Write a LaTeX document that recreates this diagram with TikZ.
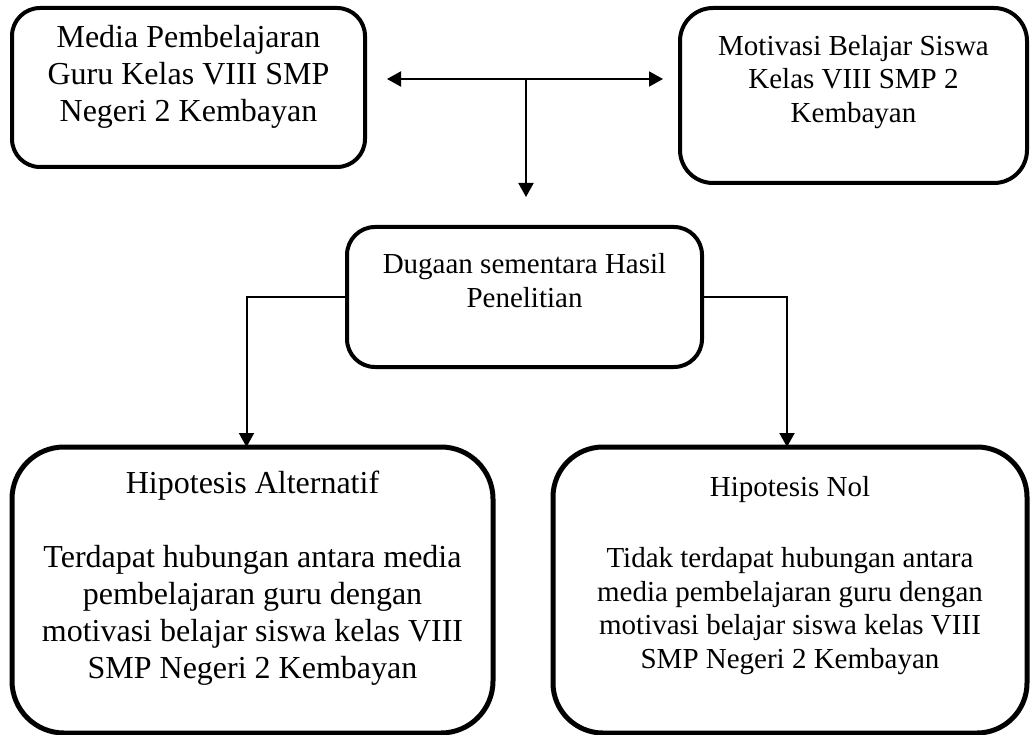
\documentclass[tikz,border=0pt]{standalone}
\usepackage{fontspec}
\setmainfont{Liberation Serif}
\usetikzlibrary{arrows.meta,positioning,calc}

\tikzset{
    box/.style={draw,line width=4pt,anchor=north west,inner sep=0pt,outer sep=0pt},
    txt/.style={align=center,anchor=north,inner sep=0pt},
    conn/.style={line width=2pt},
    >={Triangle[length=14pt,width=15pt]}
}

\begin{document}
\begin{tikzpicture}[x=1pt,y=-1pt]
    \useasboundingbox (0,0) rectangle (1030,735);

    % Top boxes
    \node[box,rounded corners=28pt,minimum width=353pt,minimum height=159pt] (media) at (12,8) {};
    \node[box,rounded corners=33pt,minimum width=347pt,minimum height=175pt] (motivasi) at (680,8) {};
    \node[txt,font=\fontsize{32}{37}\selectfont] (mediatxt) at ([yshift=-17pt]media.north) {Media Pembelajaran\\Guru Kelas VIII SMP\\Negeri 2 Kembayan};
    \node[txt,font=\fontsize{29}{33.5}\selectfont] (motivasitxt) at ([yshift=-27pt]motivasi.north) {Motivasi Belajar Siswa\\Kelas VIII SMP 2\\Kembayan};

    % Middle box
    \node[box,rounded corners=28pt,minimum width=355pt,minimum height=140pt] (dugaan) at (347,227) {};
    \node[txt,font=\fontsize{29}{34}\selectfont] (dugaantxt) at ([yshift=-26pt]dugaan.north) {Dugaan sementara Hasil\\Penelitian};

    % Bottom boxes
    \node[box,line width=5pt,rounded corners=52pt,minimum width=481pt,minimum height=286pt] (alt) at (12,447) {};
    \node[box,line width=5pt,rounded corners=50pt,minimum width=474pt,minimum height=286pt] (nol) at (553,447) {};
    \node[txt,font=\fontsize{32}{37}\selectfont] (alttxt) at ([yshift=-24pt]alt.north) {Hipotesis Alternatif\\[37pt]Terdapat hubungan antara media\\pembelajaran guru dengan\\motivasi belajar siswa kelas VIII\\SMP Negeri 2 Kembayan};
    \node[txt,font=\fontsize{29}{33.5}\selectfont] (noltxt) at ([yshift=-29pt]nol.north) {Hipotesis Nol\\[38pt]Tidak terdapat hubungan antara\\media pembelajaran guru dengan\\motivasi belajar siswa kelas VIII\\SMP Negeri 2 Kembayan};

    % Arrows
    \coordinate (lft) at (387,79);
    \coordinate (rgt) at (663,79);
    \coordinate (jn) at (526,79);
    \coordinate (dn) at (526,197);
    \draw[conn,<->] (lft) -- (rgt);
    \draw[conn,->] (jn) -- (dn);
    \draw[conn,->] (dugaan.west) -| ([xshift=-6pt]alt.north);
    \draw[conn,->] (dugaan.east) -| ([xshift=-3pt]nol.north);
\end{tikzpicture}
\end{document}
